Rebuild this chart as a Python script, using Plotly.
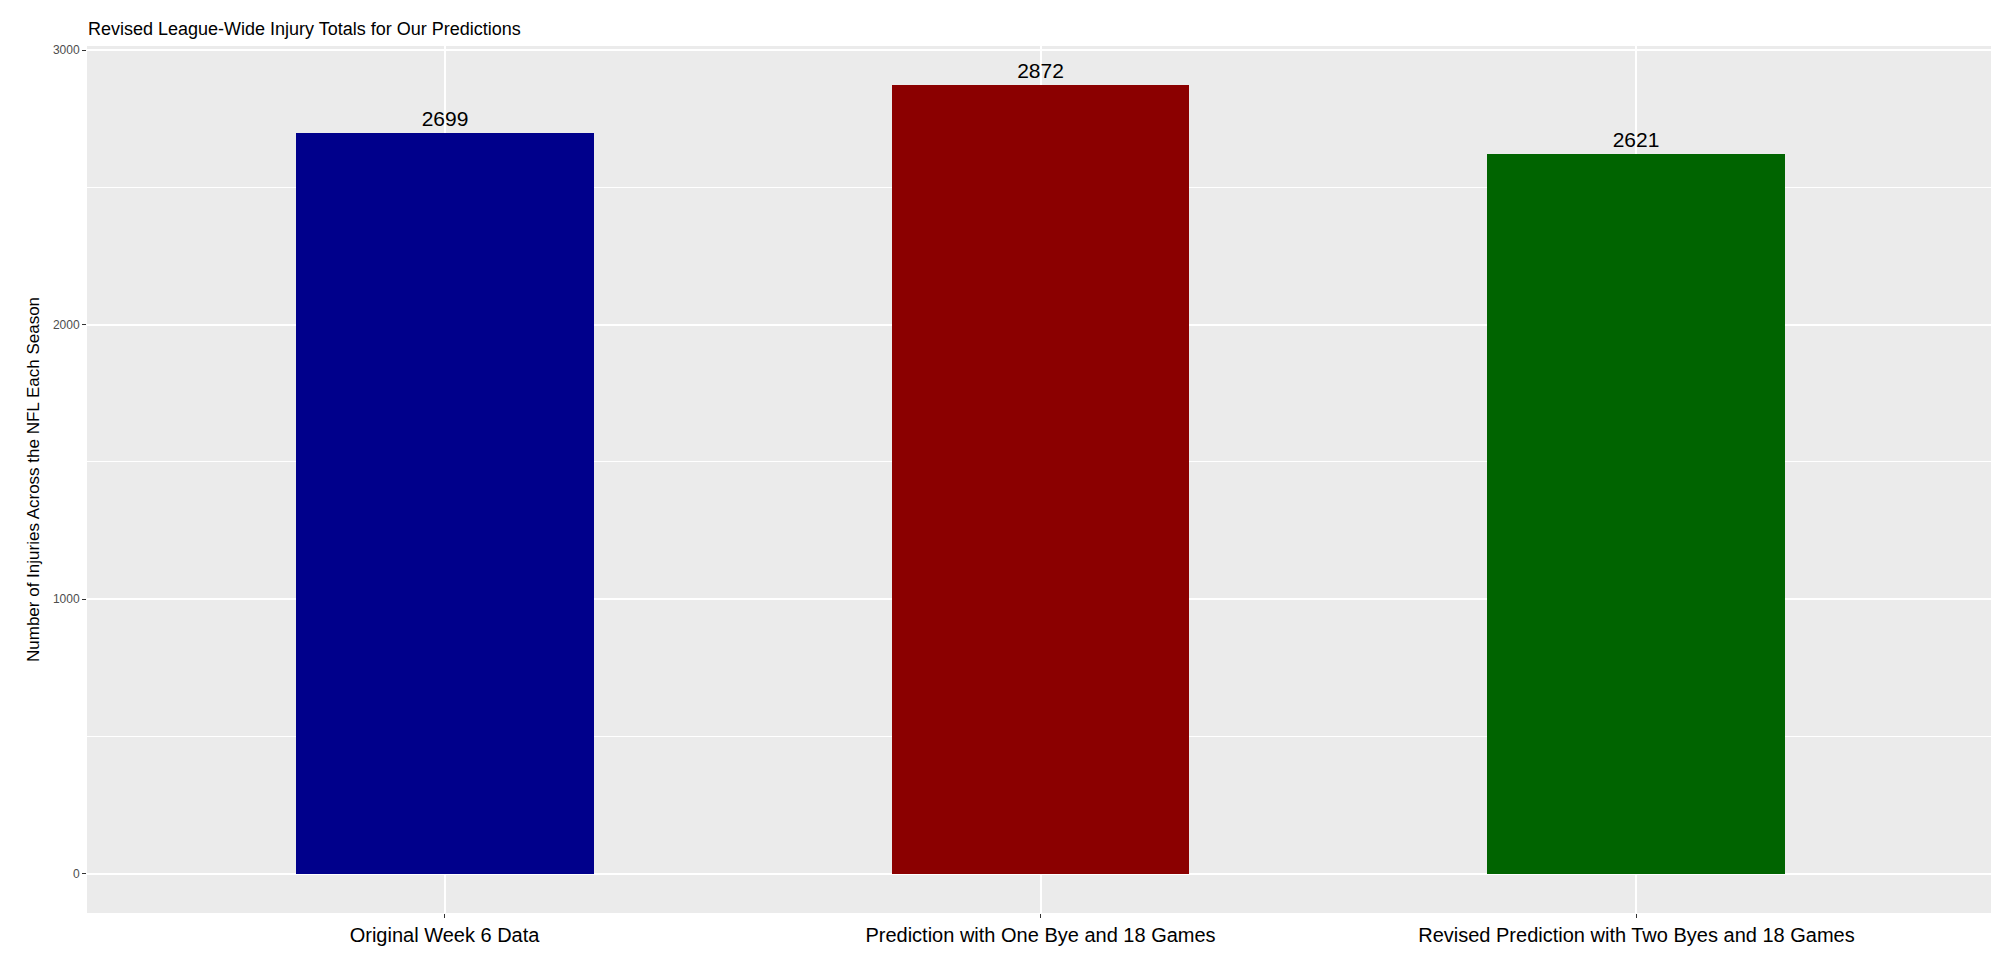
import plotly.graph_objects as go

categories = ["Original Week 6 Data", "Prediction with One Bye and 18 Games",
              "Revised Prediction with Two Byes and 18 Games"]
injuries = [2699, 2872, 2621]
colors = ["#00008B", "#8B0000", "#006400"]

fig = go.Figure(go.Bar(
    x=[1, 2, 3], y=injuries, width=0.5, marker_color=colors, marker_line_width=0,
    text=[str(v) for v in injuries], textposition="outside", cliponaxis=False,
    textfont=dict(size=21, color="black", family="Liberation Sans"),
))

fig.update_layout(
    width=1999, height=968,
    margin=dict(l=79, r=13, t=38, b=63),
    paper_bgcolor="white", plot_bgcolor="#EBEBEB",
    font=dict(family="Liberation Sans"),
    showlegend=False, bargap=0,
    title=dict(text="Revised League-Wide Injury Totals for Our Predictions",
               x=0.04, xanchor="left", y=0.985, yanchor="top",
               font=dict(size=18, color="black")),
)
fig.update_xaxes(range=[0.4, 3.6], tickvals=[1, 2, 3], ticktext=categories,
                 tickfont=dict(size=20, color="black"), showgrid=True,
                 gridcolor="white", gridwidth=1.5, zeroline=False,
                 ticks="outside", ticklen=4, tickcolor="#333333")
fig.update_yaxes(range=[-143.6, 3015.6], tickvals=[0, 1000, 2000, 3000],
                 tickfont=dict(size=12, color="#4D4D4D"),
                 gridcolor="white", gridwidth=1.5, zeroline=False,
                 minor=dict(tickvals=[500, 1500, 2500], showgrid=True,
                            gridcolor="white", gridwidth=0.7),
                 ticks="outside", ticklen=4, tickcolor="#333333",
                 title=dict(text="Number of Injuries Across the NFL Each Season",
                            font=dict(size=17, color="black"), standoff=8))

fig.write_html("out.html")
